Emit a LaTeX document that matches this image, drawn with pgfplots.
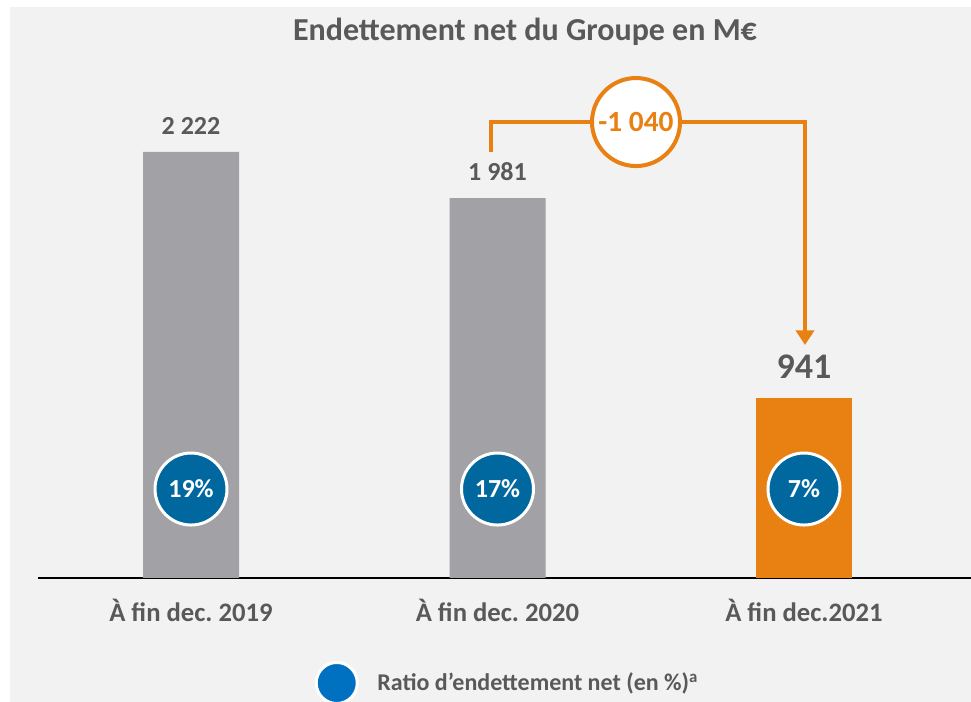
\documentclass[border=0pt]{standalone}
\usepackage{fontspec}
\setmainfont{Carlito}
\usepackage{pgfplots}
\pgfplotsset{compat=1.18}
\usetikzlibrary{arrows.meta}
\definecolor{bggray}{RGB}{242,242,242}
\definecolor{bargray}{RGB}{162,162,166}
\definecolor{barorange}{RGB}{232,128,18}
\definecolor{dotblue}{RGB}{0,104,158}
\definecolor{legblue}{RGB}{0,112,192}
\definecolor{txtgray}{RGB}{89,89,89}
\frenchspacing
\begin{document}
\begin{tikzpicture}
\useasboundingbox (-28.5pt,-93pt) rectangle (699.75pt,433.5pt);
\fill[white] (-28.5pt,-93pt) rectangle (699.75pt,433.5pt);
\fill[bggray] (-21pt,-93pt) rectangle (699.75pt,428.25pt);
\begin{axis}[
    anchor=south west, at={(0pt,0pt)},
    scale only axis,
    width=699.75pt, height=428.25pt,
    xmin=-0.4992, xmax=2.5449,
    ymin=0, ymax=2978,
    axis x line=bottom, axis y line=none,
    x axis line style={-, black, line width=1.5pt},
    xtick={0,1,2},
    xticklabels={À fin dec. 2019, À fin dec. 2020, À fin dec.2021},
    major tick length=0pt, ytick=\empty,
    xticklabel style={font=\fontsize{20}{24}\selectfont\bfseries, text=txtgray, anchor=base, yshift=-33pt},
    clip=false,
    every axis title shift=0pt,
    title={Endettement net du Groupe en M€},
    title style={at={(rel axis cs:0.522,0.951)}, anchor=base, yshift=-4.5pt, font=\fontsize{24}{28}\selectfont\bfseries, text=txtgray},
    legend style={draw=none, fill=none, at={(rel axis cs:0.2963,-0.1839)}, anchor=west, inner sep=0pt,
        font=\fontsize{18}{22}\selectfont\bfseries, text=txtgray,
        /tikz/every odd column/.append style={column sep=12pt}},
    legend image code/.code={\draw[fill=legblue, draw=white, line width=2.25pt] (15.4pt,0pt) circle (15.4pt);},
]
% net debt, gray bars
\addplot[ybar, bar width=72pt, bar shift=0pt, fill=bargray, draw=none, forget plot,
    nodes near coords, point meta=explicit symbolic,
    every node near coord/.append style={anchor=base, yshift=13pt, text=txtgray, font=\fontsize{19.5}{23}\selectfont\bfseries}]
    coordinates {(0,2222) [2 222] (1,1981) [1 981]};
% 2021 bar
\addplot[ybar, bar width=72pt, bar shift=0pt, fill=barorange, draw=none, forget plot,
    nodes near coords, point meta=explicit symbolic,
    every node near coord/.append style={anchor=base, yshift=14pt, text=txtgray, font=\fontsize{27}{31}\selectfont\bfseries}]
    coordinates {(2,941) [941]};
% ratio circles
\addplot[only marks, mark=*, mark size=27pt, forget plot,
    mark options={fill=dotblue, draw=white, line width=2.25pt},
    nodes near coords, point meta=explicit symbolic, nodes near coords align=center,
    every node near coord/.append style={anchor=center, text=white, font=\fontsize{19.5}{23}\selectfont\bfseries}]
    coordinates {(0,464) [19\%] (1,464) [17\%] (2,464) [7\%]};
\addlegendimage{only marks}
\addlegendentry{Ratio d’endettement net (en \%)\textsuperscript{a}}
% change bracket
\draw[barorange, line width=3pt, line join=miter,
    -{Triangle[width=13.5pt, length=11pt]}]
    (axis cs:0.9788,2222) |- (axis cs:2.0033,2378) -- (axis cs:2.0033,1215);
\node[circle, draw=barorange, line width=3pt, fill=white, minimum size=66pt, inner sep=0pt,
    text=barorange, font=\fontsize{22}{26}\selectfont\bfseries]
    at (axis cs:1.4519,2378) {-1 040};
\end{axis}
\end{tikzpicture}
\end{document}
